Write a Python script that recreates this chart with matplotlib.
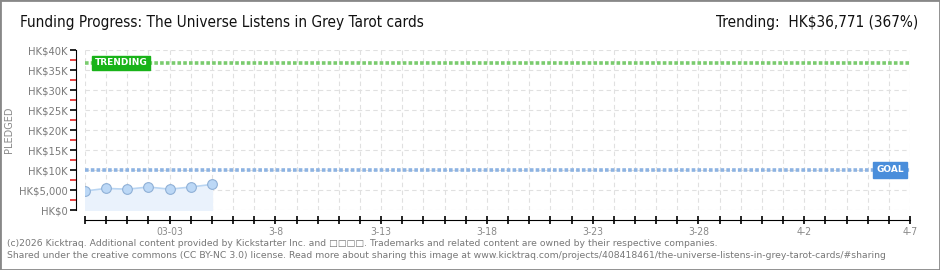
import numpy as np
import matplotlib.pyplot as plt
import matplotlib.dates as mdates
from matplotlib.ticker import FixedLocator

plt.rcParams['font.family'] = ['DejaVu Sans']

# data
dates = np.array(['2026-02-27', '2026-02-28', '2026-03-01', '2026-03-02',
                  '2026-03-03', '2026-03-04', '2026-03-05'], dtype='datetime64[D]')
pledged = [4750, 5400, 5200, 5750, 5200, 5750, 6400]
goal = 10000
trending = 36771
start, end = np.datetime64('2026-02-27'), np.datetime64('2026-04-07')
xlabels = ['03-03', '3-8', '3-13', '3-18', '3-23', '3-28', '4-2', '4-7']
ylabels = ['HK$0', 'HK$5,000', 'HK$10K', 'HK$15K', 'HK$20K', 'HK$25K',
           'HK$30K', 'HK$35K', 'HK$40K']

fig = plt.figure(figsize=(9.4, 2.7), dpi=100)
fig.patch.set_facecolor('white')
ax = fig.add_axes([85/940, 1-210/270, 825/940, 160/270])

# grid
all_days = np.arange(start, end + 1)
ax.set_xlim(mdates.date2num(start), mdates.date2num(end))
ax.set_ylim(0, 40000)
ax.xaxis.set_major_locator(FixedLocator(mdates.date2num(all_days)))
ax.set_xticklabels([xlabels[(i - 4)//5] if (i - 4) % 5 == 0 and i >= 4 else ''
                    for i in range(len(all_days))])
ax.set_yticks(np.arange(0, 40001, 5000))
ax.set_yticklabels(ylabels)
ax.yaxis.set_minor_locator(FixedLocator(np.arange(2500, 40000, 5000)))
ax.grid(True, color='#e0e0e0', linestyle=(0, (4, 3)), linewidth=0.8)
ax.set_axisbelow(True)

# goal and trending lines
ax.axhline(goal, color='#8db3e2', linewidth=2.6, linestyle=(0, (1, 0.6)), zorder=2)
ax.axhline(trending, color='#7acb6e', linewidth=2.6, linestyle=(0, (1, 0.6)), zorder=2)

# pledged series
xd = mdates.date2num(dates)
ax.fill_between(xd, pledged, 0, color='#eaf2fc', zorder=2)
ax.plot(xd, pledged, color='#b9d5f2', linewidth=1.2, zorder=3)
ax.plot(xd, pledged, 'o', markersize=7, markerfacecolor='#bcd8f6',
        markeredgecolor='#8fb0d6', markeredgewidth=0.8, zorder=4)

# labels on the lines
ax.text(mdates.date2num(start) + 0.45, trending, 'TRENDING',
        color='white', fontsize=6.5, fontweight='bold', va='center', ha='left',
        bbox=dict(boxstyle='square,pad=0.3', fc='#19b319', ec='#19b319'), zorder=5)
ax.text(mdates.date2num(end) - 0.3, goal, 'GOAL',
        color='white', fontsize=6.5, fontweight='bold', va='center', ha='right',
        bbox=dict(boxstyle='square,pad=0.35', fc='#4a8edb', ec='#4a8edb'), zorder=5)

# spines and ticks
for s in ['top', 'right']:
    ax.spines[s].set_visible(False)
ax.spines['left'].set_position(('outward', 6.5))
ax.spines['bottom'].set_position(('outward', 7.2))
ax.spines['left'].set_bounds(0, 40000)
ax.tick_params(axis='y', which='major', direction='out', length=4, width=1.2,
               colors='black', labelcolor='#7a7a7a', labelsize=8, pad=2)
ax.tick_params(axis='y', which='minor', direction='out', length=4, width=1.2,
               colors='#e02020')
ax.tick_params(axis='x', which='major', direction='inout', length=6, width=1.2,
               labelcolor='#8a8a8a', labelsize=7.5, pad=2)
for lab in ax.get_yticklabels() + ax.get_xticklabels():
    lab.set_fontstretch('condensed')
ax.set_ylabel('PLEDGED', color='#8a8a8a', fontsize=7)
ax.yaxis.set_label_coords(-0.086, 0.5)

# titles
fig.text(20/940, 1-22/270, 'Funding Progress: The Universe Listens in Grey Tarot cards',
         fontsize=11, va='center', ha='left', color='#111111', fontstretch='condensed')
fig.text(918/940, 1-22/270, 'Trending:  HK$36,771 (367%)',
         fontsize=11, va='center', ha='right', color='#111111', fontstretch='condensed')

# footer
fig.text(7/940, 1-243/270,
         '(c)2026 Kicktraq. Additional content provided by Kickstarter Inc. and \u25a1\u25a1\u25a1\u25a1. '
         'Trademarks and related content are owned by their respective companies.',
         fontsize=6.7, color='#777777', va='center')
fig.text(7/940, 1-256/270,
         'Shared under the creative commons (CC BY-NC 3.0) license. Read more about sharing this image at '
         'www.kicktraq.com/projects/408418461/the-universe-listens-in-grey-tarot-cards/#sharing',
         fontsize=6.7, color='#777777', va='center')

# outer border
fig.patches.append(plt.Rectangle((0, 0), 1, 1, transform=fig.transFigure,
                                 fill=False, edgecolor='#888888', linewidth=2))

fig.savefig('out.png', dpi=100)
